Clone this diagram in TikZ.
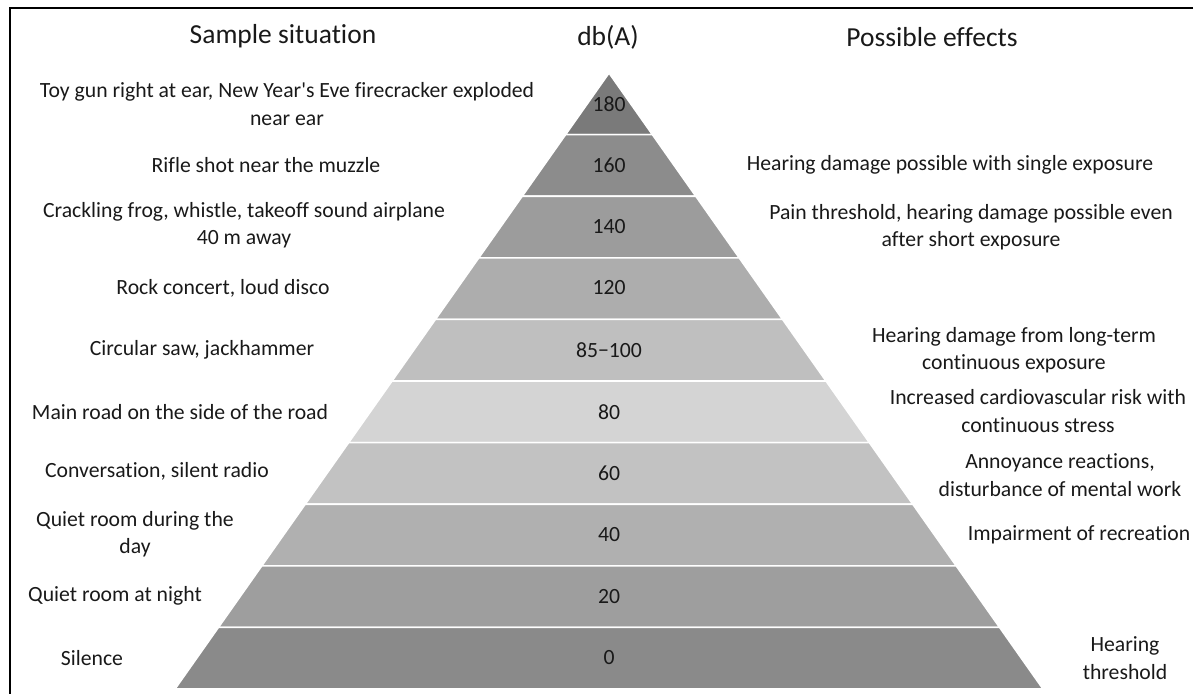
\documentclass[tikz,border=0pt]{standalone}
\usepackage{fontspec}
\setmainfont[Ligatures={NoCommon}]{Carlito}
\usetikzlibrary{positioning, calc}

\begin{document}
\begin{tikzpicture}[
  x=1pt, y=-1pt,
  font=\fontsize{21.7}{27.5}\selectfont,
  head/.style={font=\fontsize{27.5}{31}\selectfont, text=black!90},
  band/.style={fill=#1, draw=white, line width=1.6pt, line join=miter},
  level/.style={text=black!90},
  sitL/.style={align=center, text=black!90, inner sep=0pt},
  effR/.style={align=center, text=black!90, inner sep=0pt}
]

\useasboundingbox (0,0) rectangle (1194,694);

% ── Frame ────────────────────────────────────────────────────────────────────
\coordinate (frameTR) at (1193,8);
\coordinate (frameTL) at (10,8);
\coordinate (frameBL) at (10,694);
\draw[line width=2pt] (frameTR) -- (frameTL) -- (frameBL);

% ── Pyramid ──────────────────────────────────────────────────────────────────
\coordinate (apex) at (609,73);
\coordinate (bl) at (175,689);
\coordinate (br) at (1043,689);

\path[band=black!52] (apex) -- ($(apex)!.1!(bl)$) -- ($(apex)!.1!(br)$) -- cycle;
\path[band=black!45] ($(apex)!.1!(bl)$) -- ($(apex)!.2!(bl)$) -- ($(apex)!.2!(br)$) -- ($(apex)!.1!(br)$) -- cycle;
\path[band=black!39] ($(apex)!.2!(bl)$) -- ($(apex)!.3!(bl)$) -- ($(apex)!.3!(br)$) -- ($(apex)!.2!(br)$) -- cycle;
\path[band=black!32] ($(apex)!.3!(bl)$) -- ($(apex)!.4!(bl)$) -- ($(apex)!.4!(br)$) -- ($(apex)!.3!(br)$) -- cycle;
\path[band=black!25] ($(apex)!.4!(bl)$) -- ($(apex)!.5!(bl)$) -- ($(apex)!.5!(br)$) -- ($(apex)!.4!(br)$) -- cycle;
\path[band=black!17] ($(apex)!.5!(bl)$) -- ($(apex)!.6!(bl)$) -- ($(apex)!.6!(br)$) -- ($(apex)!.5!(br)$) -- cycle;
\path[band=black!24] ($(apex)!.6!(bl)$) -- ($(apex)!.7!(bl)$) -- ($(apex)!.7!(br)$) -- ($(apex)!.6!(br)$) -- cycle;
\path[band=black!31] ($(apex)!.7!(bl)$) -- ($(apex)!.8!(bl)$) -- ($(apex)!.8!(br)$) -- ($(apex)!.7!(br)$) -- cycle;
\path[band=black!38] ($(apex)!.8!(bl)$) -- ($(apex)!.9!(bl)$) -- ($(apex)!.9!(br)$) -- ($(apex)!.8!(br)$) -- cycle;
\path[band=black!46] ($(apex)!.9!(bl)$) -- (bl) -- (br) -- ($(apex)!.9!(br)$) -- cycle;

% ── Headers ──────────────────────────────────────────────────────────────────
\node[head] (situation) at (283,36) {Sample situation};
\node[head] (dbA) at (608,37) {db(A)};
\node[head] (effects) at (932,37) {Possible effects};

% ── Levels ───────────────────────────────────────────────────────────────────
\node[level] (db180) at (609,104) {180};
\node[level] (db160) at (609,165) {160};
\node[level] (db140) at (609,227) {140};
\node[level] (db120) at (609,288) {120};
\node[level] (db85)  at (609,350) {85−100};
\node[level] (db80)  at (609,412) {80};
\node[level] (db60)  at (609,473) {60};
\node[level] (db40)  at (609,535) {40};
\node[level] (db20)  at (609,597) {20};
\node[level] (db0)   at (609,658) {0};

% ── Sample situations (left) ─────────────────────────────────────────────────
\node[sitL] (toygun) at (287,104)
  {Toy gun right at ear, New Year\textquotesingle s Eve firecracker exploded\\near ear};
\node[sitL] (rifle) at (266,165) {Rifle shot near the muzzle};
\node[sitL] (frog) at (244,225)
  {Crackling frog, whistle, takeoff sound airplane\\40 m away};
\node[sitL] (rock) at (223,288) {Rock concert, loud disco};
\node[sitL] (saw) at (202,350) {Circular saw, jackhammer};
\node[sitL] (road) at (180,412) {Main road on the side of the road};
\node[sitL] (talk) at (157,471) {Conversation, silent radio};
\node[sitL] (dayroom) at (135,534) {Quiet room during the\\day};
\node[sitL] (nightroom) at (115,596) {Quiet room at night};
\node[sitL] (silence) at (92,658) {Silence};

% ── Possible effects (right) ─────────────────────────────────────────────────
\node[effR] (single) at (950,165) {Hearing damage possible with single exposure};
\node[effR] (pain) at (971,227)
  {Pain threshold, hearing damage possible even\\after short exposure};
\node[effR] (longterm) at (1014,350)
  {Hearing damage from long-term\\continuous exposure};
\node[effR] (cardio) at (1038,411)
  {Increased cardiovascular risk with\\continuous stress};
\node[effR] (annoy) at (1060,475)
  {Annoyance reactions,\\disturbance of mental work};
\node[effR] (recreation) at (1079,535) {Impairment of recreation};
\node[effR] (threshold) at (1125,658) {Hearing\\threshold};

\end{tikzpicture}
\end{document}
